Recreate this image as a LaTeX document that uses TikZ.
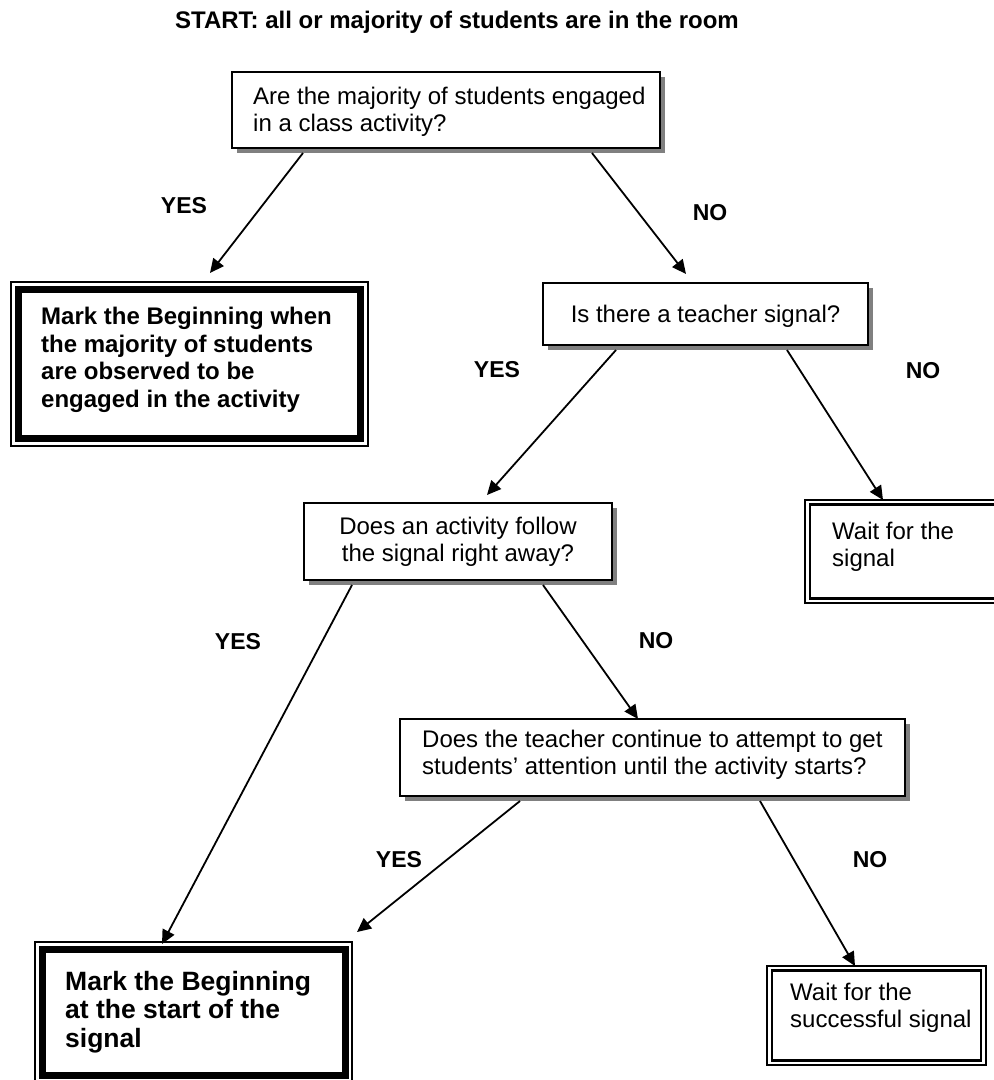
\documentclass[tikz,border=0pt]{standalone}
\usepackage{fontspec}
\setmainfont{Liberation Sans}
\usetikzlibrary{arrows.meta,calc,shadows}

\begin{document}
\begin{tikzpicture}[x=1pt,y=-1pt,
  box/.style={rectangle, draw, line width=1.5pt, fill=white, anchor=north west,
    outer sep=0pt, inner sep=0pt},
  shadowbox/.style={box, drop shadow={shadow xshift=5pt, shadow yshift=-5pt,
    fill=black!50, opacity=1}},
  txt/.style={inner sep=0pt, align=left, anchor=west,
    font=\fontsize{24}{27}\selectfont},
  ctxt/.style={inner sep=0pt, align=center,
    font=\fontsize{24}{27}\selectfont},
  btxt/.style={inner sep=0pt, align=left, anchor=west,
    font=\bfseries\fontsize{24}{27.5}\selectfont},
  lab/.style={inner sep=0pt, font=\bfseries\fontsize{23}{26}\selectfont},
  arr/.style={line width=1.8pt, -{Triangle[length=14pt,width=13pt]}}
]
\useasboundingbox (0,0) rectangle (994,1080);
\clip (0,0) rectangle (994,1080);
\fill[white] (0,0) rectangle (994,1080);

% heading
\node[inner sep=0pt, anchor=base, font=\bfseries\fontsize{24}{27}\selectfont]
  (title) at (457,28) {START: all or majority of students are in the room};

% question boxes with drop shadows
\node[shadowbox, minimum width=428pt, minimum height=76pt] (q1) at (232,72) {};
\node[txt] (q1t) at (253,112) {Are the majority of students engaged\\in a class activity?};

\node[shadowbox, minimum width=325pt, minimum height=62pt] (sig) at (543,283) {};
\node[ctxt] (sigt) at (705.5,316) {Is there a teacher signal?};

\node[shadowbox, minimum width=308pt, minimum height=77pt] (act) at (304,503) {};
\node[ctxt] (actt) at (458,542) {Does an activity follow\\the signal right away?};

\node[shadowbox, minimum width=505pt, minimum height=77pt] (cont) at (400,719) {};
\node[txt] (contt) at (422,755) {Does the teacher continue to attempt to get\\students’ attention until the activity starts?};

% outcome boxes: thin outer line with heavy inner line
\node[box, minimum width=357pt, minimum height=164pt] (mw) at (11,282) {};
\draw[line width=7.5pt] ($(mw.north west)+(7.5,7.5)$) rectangle ($(mw.south east)+(-7.5,-7.5)$);
\node[btxt] (mwt) at (41,360) {Mark the Beginning when\\the majority of students\\are observed to be\\engaged in the activity};

\node[box, minimum width=317pt, minimum height=140pt] (mbs) at (35,942) {};
\draw[line width=7pt] ($(mbs.north west)+(7,7)$) rectangle ($(mbs.south east)+(-7,-7)$);
\node[inner sep=0pt, align=left, anchor=west, font=\bfseries\fontsize{26.5}{28.5}\selectfont]
  (mbst) at (65,1012) {Mark the Beginning\\at the start of the\\signal};

% waiting boxes: double line
\node[box, minimum width=200pt, minimum height=103pt] (w1) at (805,500) {};
\draw[line width=2.5pt] ($(w1.north west)+(5,4.5)$) rectangle ($(w1.south east)+(-5,-4.5)$);
\node[txt] (w1t) at (832,547) {Wait for the\\signal};

\node[box, minimum width=219pt, minimum height=99pt] (wss) at (767,966) {};
\draw[line width=2.5pt] ($(wss.north west)+(5,4.5)$) rectangle ($(wss.south east)+(-5,-4.5)$);
\node[txt] (wsst) at (790,1008) {Wait for the\\successful signal};

% connectors
\draw[arr] ($(q1.south west)+(71,5)$) -- ($(mw.north west)+(199,-9)$);
\draw[arr] ($(q1.south west)+(360,5)$) -- ($(sig.north west)+(143,-9)$);
\draw[arr] ($(sig.south west)+(73,5)$) -- ($(act.north west)+(183,-8)$);
\draw[arr] ($(sig.south west)+(244,5)$) -- ($(w1.north west)+(78,0)$);
\draw[arr] ($(act.south west)+(48,5)$) -- ($(mbs.north west)+(127,2)$);
\draw[arr] ($(act.south west)+(239,5)$) -- ($(cont.north west)+(238,0)$);
\draw[arr] ($(cont.south west)+(120,5)$) -- ($(mbs.north east)+(5,-10)$);
\draw[arr] ($(cont.south west)+(360,5)$) -- ($(wss.north west)+(88,0)$);

% branch labels
\node[lab] (y1) at (184,206) {YES};
\node[lab] (n1) at (710,213) {NO};
\node[lab] (y2) at (497,370) {YES};
\node[lab] (n2) at (923,371) {NO};
\node[lab] (y3) at (238,642) {YES};
\node[lab] (n3) at (656,641) {NO};
\node[lab] (y4) at (399,860) {YES};
\node[lab] (n4) at (870,860) {NO};
\end{tikzpicture}
\end{document}
